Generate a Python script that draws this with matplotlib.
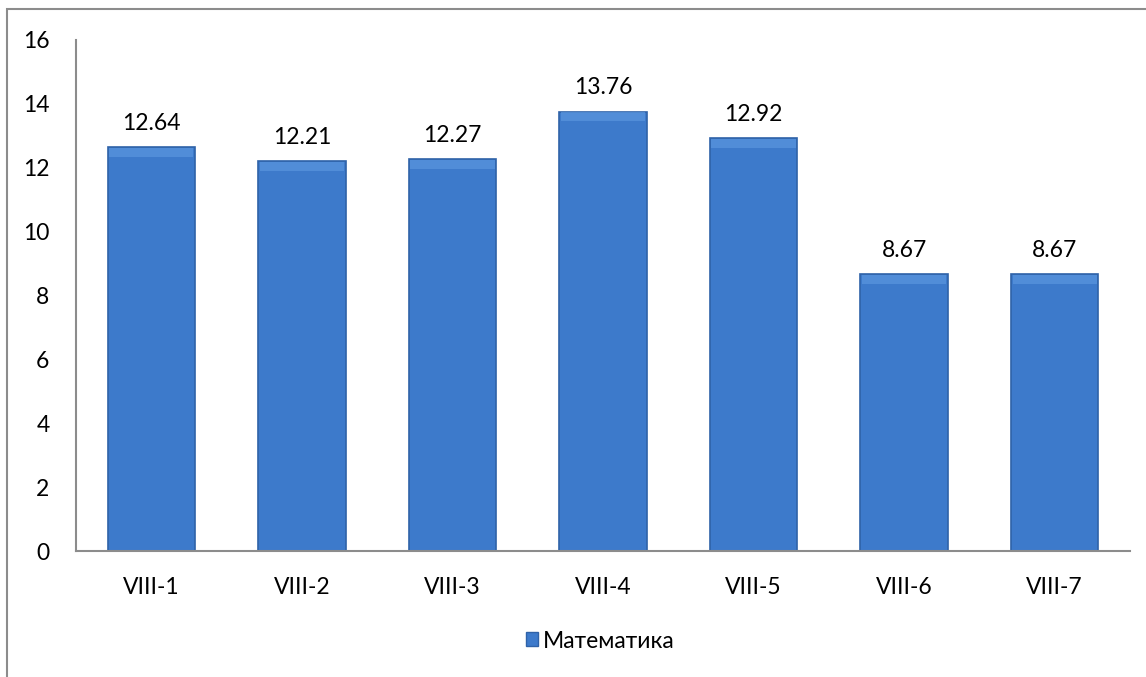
import matplotlib.pyplot as plt
from matplotlib.patches import Rectangle, Patch

classes = ['VIII-1', 'VIII-2', 'VIII-3', 'VIII-4', 'VIII-5', 'VIII-6', 'VIII-7']
scores = [12.64, 12.21, 12.27, 13.76, 12.92, 8.67, 8.67]
series_name = 'Математика'

plt.rcParams['font.family'] = ['Lato', 'DejaVu Sans']

fig = plt.figure(figsize=(11.46, 6.77), dpi=100)
ax = fig.add_axes([76 / 1146, 1 - 551 / 677, (1130 - 76) / 1146, (551 - 40) / 677])

x = range(len(classes))
bars = ax.bar(x, scores, width=0.58, color='#3D7ACB', edgecolor='#2F62A8', linewidth=1.2)
for b in bars:
    # soft lighter bevel at the top of each bar
    ax.add_patch(Rectangle((b.get_x() + 0.01, b.get_height() - 0.3), b.get_width() - 0.02, 0.28,
                           color='#5A96DE', alpha=0.7, linewidth=0))

for xi, v in zip(x, scores):
    ax.text(xi, v + 0.42, '%.2f' % v, ha='center', va='bottom', fontsize=16.5)

ax.set_xlim(-0.5, len(classes) - 0.5)
ax.set_ylim(0, 16)
ax.set_yticks(range(0, 17, 2))
ax.set_xticks(list(x))
ax.set_xticklabels(classes)
ax.tick_params(axis='both', length=0, labelsize=16.5)
ax.tick_params(axis='x', pad=19)
ax.tick_params(axis='y', pad=19)

for s in ['top', 'right']:
    ax.spines[s].set_visible(False)
for s in ['left', 'bottom']:
    ax.spines[s].set_color('#8C8C8C')
    ax.spines[s].set_linewidth(1.5)

fig.legend(handles=[Patch(facecolor='#3D7ACB', edgecolor='#2F62A8', label=series_name)],
           loc='center', bbox_to_anchor=(600 / 1146, 1 - 641 / 677), frameon=False,
           fontsize=16.5, handlelength=0.55, handleheight=0.55, handletextpad=0.2)

fig.patches.append(Rectangle((7 / 1146, -0.01), 1.02, 1 - 9 / 677 + 0.01, transform=fig.transFigure,
                             fill=False, edgecolor='#8C8C8C', linewidth=1.5))

fig.savefig('out.png', dpi=100)
